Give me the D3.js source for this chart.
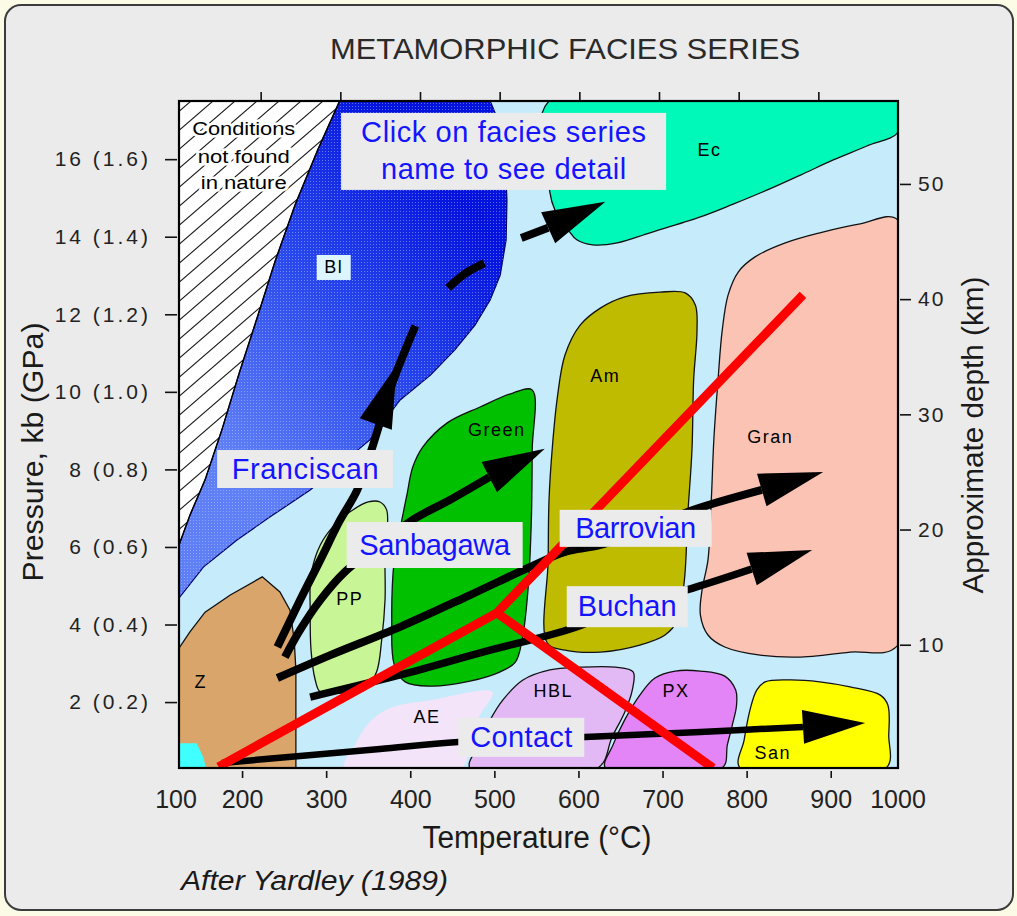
<!DOCTYPE html>
<html><head><meta charset="utf-8">
<script src="https://cdn.jsdelivr.net/npm/d3@7"></script>
<style>
body{margin:0;background:#fcfce6;}
svg{display:block;font-family:"Liberation Sans",Arial,Helvetica,sans-serif;}
</style></head><body>
<svg id="chart" width="1017" height="916"></svg>
<script>
// ---------------- DATA (temperature °C, pressure kb) ----------------
const xTicks = [200, 300, 400, 500, 600, 700, 800, 900];
const xEdgeLabels = [100, 1000];
const yTicks = [2, 4, 6, 8, 10, 12, 14, 16];
const yTickLabels = ["2 (0.2)", "4 (0.4)", "6 (0.6)", "8 (0.8)", "10 (1.0)", "12 (1.2)", "14 (1.4)", "16 (1.6)"];
const depthTicks = [10, 20, 30, 40, 50];

const hatchEdge = [[316,17.5],[290,16.24],[263,14.82],[239,13.35],[219,11.98],[197,10.51],[176,9.02],[156,7.73],[138,6.82],[125,6.05]];
const blueschistRight = [[495,17.5],[507,16.88],[513,15.98],[515,14.95],[514,13.92],[507,13.01],[495,12.37],[477,11.72],[453,11.08],[424,10.43],[388,9.79],[352,8.76],[316,8.11],[281,7.47],[233,6.77],[194,6.18],[154,5.48],[125,4.68]];
const eclogite = [[565,17.5],[980,17.5],[980,16.7],[943,16.34],[903,15.98],[864,15.59],[824,15.2],[784,14.84],[745,14.51],[685,14.1],[646,13.84],[617,13.79],[598,13.92],[588,14.17],[572,14.69],[566,15.15]];
const granulite = [[980,14.43],[935,14.33],[887,14.1],[846,13.84],[810,13.48],[790,13.09],[778,12.5],[771,11.59],[766,10.31],[761,8.76],[758,7.21],[754,5.66],[747,4.89],[745,4.25],[754,3.73],[774,3.42],[816,3.21],[864,3.16],[923,3.29],[980,3.47]];
const amphibolite = [[563,3.52],[564,5.66],[565,7.21],[569,8.58],[575,9.87],[584,10.95],[602,11.72],[626,12.16],[655,12.45],[697,12.57],[727,12.55],[739,12.24],[741,11.59],[737,10.31],[735,8.5],[730,6.82],[726,5.15],[718,4.12],[703,3.73],[673,3.47],[626,3.29],[584,3.34]];
const greenschist = [[545,10.05],[545,8.5],[544,6.7],[540,4.89],[533,3.6],[525,3.03],[507,2.78],[471,2.54],[424,2.41],[394,2.52],[381,2.96],[378,4.12],[381,5.66],[390,6.7],[396,7.34],[403,8.06],[415,8.58],[444,9.2],[483,9.61],[522,9.97]];
const prehnitePumpellyite = [[372,6.95],[370,5.66],[370,4.63],[366,3.6],[360,2.78],[346,2.31],[316,2.23],[293,2.26],[287,2.57],[282,3.34],[281,4.37],[282,5.28],[293,6.05],[310,6.57],[328,6.9],[350,7.16],[364,7.16]];
const zeolite = [[125,3.39],[138,3.81],[156,4.32],[186,4.76],[224,5.23],[245,4.84],[257,4.37],[262,3.6],[264,2.83],[264,0.3],[125,0.3]];
const lowestCorner = [[125,0.94],[146,0.94],[154,0.58],[157,0.3],[125,0.3]];
const albiteEpidote = [[322,0.3],[334,0.89],[352,1.49],[376,1.85],[424,2.05],[498,2.26],[483,1.67],[471,1.02],[461,0.3]];
const hornblendeHornfels = [[471,0.3],[481,0.89],[495,1.54],[510,2.05],[534,2.57],[566,2.83],[602,2.9],[644,2.9],[665,2.78],[664,2.31],[655,1.74],[640,1.1],[623,0.3]];
const pyroxeneHornfels = [[632,0.3],[641,0.89],[655,1.54],[673,2.18],[691,2.62],[715,2.8],[745,2.8],[774,2.67],[787,2.31],[788,1.92],[783,1.41],[777,0.89],[771,0.3]];
const sanidinite = [[792,0.3],[797,1.02],[804,1.8],[812,2.31],[822,2.52],[852,2.57],[887,2.52],[923,2.39],[959,2.18],[968,1.92],[969,1.15],[966,0.3]];

const geothermMain = [[172,0.33],[503,4.3],[867,12.5]];
const geothermContact = [[503,4.3],[760,0.3]];

const franciscanPath = [[242,3.42],[269,4.63],[293,5.66],[316,6.67],[337,7.47],[355,8.58],[378,10.18],[406,11.7]];
const franciscanHead = [[384,10.69],[359,9.17]];
const blueschistDash = [[445,12.68],[466,13.06],[488,13.32]];
const eclogitePath = [[532,13.97],[564,14.23]];
const eclogiteHead = [[632,14.9],[564,14.23]];
const sanbagawaPath = [[251,3.16],[269,3.86],[293,4.63],[322,5.35],[358,5.97],[403,6.7],[447,7.21],[494,7.8]];
const sanbagawaHead = [[560,8.53],[494,7.8]];
const barrovianPath = [[242,2.62],[305,3.21],[388,3.94],[471,4.76],[542,5.48],[584,5.87],[626,6.05],[685,6.51],[736,6.95],[818,7.47]];
const barrovianHead = [[891,7.93],[818,7.47]];
const buchanPath = [[281,2.13],[388,2.7],[483,3.27],[594,3.91],[661,4.5],[736,4.94],[806,5.43]];
const buchanHead = [[878,5.92],[806,5.43]];
const contactPath = [[176,0.43],[269,0.61],[364,0.79],[457,0.97],[608,1.1],[745,1.23],[867,1.36]];
const contactHead = [[941,1.46],[867,1.36]];

const faciesLabels = ["Ec", "Bl", "Am", "Green", "Gran", "PP", "Z", "AE", "HBL", "PX", "San"];
const faciesLabelAt = [[756,16.26],[309,13.22],[632,10.43],[503,9.02],[828,8.84],[328,4.68],[151,2.54],[420,1.62],[570,2.29],[716,2.31],[831,0.71]];

const seriesNames = ["Franciscan", "Sanbagawa", "Barrovian", "Buchan", "Contact"];
const seriesLabelAt = [[275,8.01],[429,6.05],[668,6.48],[658,4.46],[532,1.09]];
const hintLines = ["Click on facies series", "name to see detail"];
const hintAt = [511, 16.2];
const noNatureLines = ["Conditions", "not found", "in nature"];
const noNatureAt = [[202,16.8],[202,16.08],[202,15.39]];

// ---------------- STYLE ----------------
const fills = {Ec:"#00f8b8", Gran:"#fbc3b3", Am:"#bebb00", Green:"#00c000", PP:"#c8f696",
  Z:"#d9a56a", corner:"#40ffff", AE:"#f3e4fa", HBL:"#e2b9f5", PX:"#e384f7", San:"#ffff00"};
const seriesBox = {Franciscan:[176,38,147], Sanbagawa:[176,46,151], Barrovian:[152,37,121], Buchan:[121,41,99], Contact:[126,39,102]};
const blue = "#1414ff";

// ---------------- SCALES ----------------
const svg = d3.select("#chart");
const x = d3.scaleLinear().domain([125, 980]).range([179, 898]);
const xNominal = d3.scaleLinear().domain([100, 1000]).range([181, 898]);
const y = d3.scaleLinear().domain([0.3, 17.5]).range([768, 101]);
const yDepth = d3.scaleLinear().domain([-0.7, 57.2]).range([768, 101]);
const [px0, px1] = x.range();
const [py1, py0] = y.range();

// background & panel
svg.append("rect").attr("width",1017).attr("height",916).attr("fill","#fcfce6");
svg.append("rect").attr("x",5).attr("y",5).attr("width",1008).attr("height",905).attr("rx",16)
  .attr("fill","#ebebeb").attr("stroke","#3c3c3c").attr("stroke-width",2);

const defs = svg.append("defs");
defs.append("clipPath").attr("id","plotclip").append("rect")
  .attr("x",px0).attr("y",py0).attr("width",px1-px0).attr("height",py1-py0);
const hp = defs.append("pattern").attr("id","hatch").attr("patternUnits","userSpaceOnUse")
  .attr("width",22).attr("height",19);
hp.append("rect").attr("width",22).attr("height",19).attr("fill","#ffffff");
hp.append("path").attr("d","M0,19 L22,0 M-3,2.6 L3,-2.6 M19,21.6 L25,16.4").attr("stroke","#1a1a1a").attr("stroke-width",1.1);
const dp = defs.append("pattern").attr("id","dots").attr("patternUnits","userSpaceOnUse").attr("width",3).attr("height",3);
dp.append("rect").attr("x",1).attr("y",1).attr("width",1).attr("height",1).attr("fill","#c8d4ff");
const gr = defs.append("linearGradient").attr("id","blgrad").attr("gradientUnits","userSpaceOnUse")
  .attr("x1",460).attr("y1",200).attr("x2",200).attr("y2",420);
gr.append("stop").attr("offset",0).attr("stop-color","#0412de");
gr.append("stop").attr("offset",0.45).attr("stop-color","#2544ec");
gr.append("stop").attr("offset",1).attr("stop-color","#5f7ff6");

// plot background
svg.append("rect").attr("x",px0).attr("y",py0).attr("width",px1-px0).attr("height",py1-py0).attr("fill","#c6ebfb");

const lin = d3.line().x(d=>x(d[0])).y(d=>y(d[1])).curve(d3.curveLinearClosed);
const smooth = d3.line().x(d=>x(d[0])).y(d=>y(d[1])).curve(d3.curveCatmullRomClosed.alpha(0.5));
const open = d3.line().x(d=>x(d[0])).y(d=>y(d[1])).curve(d3.curveCatmullRom.alpha(0.5));
const straight = d3.line().x(d=>x(d[0])).y(d=>y(d[1]));

const plot = svg.append("g").attr("clip-path","url(#plotclip)");

// hatch region
const hatchPoly = [[125,17.5]].concat(hatchEdge);
plot.append("path").attr("d",lin(hatchPoly)).attr("fill","url(#hatch)");
// blueschist
const blPoly = [hatchEdge[0]].concat(blueschistRight, [hatchEdge[hatchEdge.length-1]], hatchEdge.slice(1,-1).reverse());
plot.append("path").attr("d",lin(blPoly)).attr("fill","url(#blgrad)").attr("stroke","#00006a").attr("stroke-width",1.2);
plot.append("path").attr("d",lin(blPoly)).attr("fill","url(#dots)").attr("opacity",0.45);
plot.append("path").attr("d",straight(hatchEdge)).attr("fill","none").attr("stroke","#000").attr("stroke-width",1.4);

const regions = [
  ["Ec", eclogite, smooth, true], ["Gran", granulite, smooth, true], ["Am", amphibolite, smooth, true],
  ["Green", greenschist, smooth, true], ["PP", prehnitePumpellyite, smooth, true], ["Z", zeolite, lin, true],
  ["corner", lowestCorner, lin, false], ["AE", albiteEpidote, smooth, false], ["HBL", hornblendeHornfels, smooth, true],
  ["PX", pyroxeneHornfels, smooth, true], ["San", sanidinite, smooth, true]
];
regions.forEach(([k, pts, gen, outline]) => {
  plot.append("path").attr("d", gen(pts)).attr("fill", fills[k])
    .attr("stroke", outline ? "#111" : "none").attr("stroke-width", 1.3);
});

// facies labels
faciesLabels.forEach((t, i) => {
  const cx = x(faciesLabelAt[i][0]), cy = y(faciesLabelAt[i][1]);
  if (t === "Bl") plot.append("rect").attr("x",cx-17).attr("y",cy-12).attr("width",34).attr("height",25).attr("fill","#dcf5ff");
  plot.append("text").attr("x",cx).attr("y",cy).attr("dy","0.36em").attr("text-anchor","middle")
    .attr("font-size",18).attr("letter-spacing",1.5).attr("fill","#000").text(t);
});
// no-nature text
noNatureLines.forEach((t,i) => {
  plot.append("text").attr("x",x(noNatureAt[i][0])).attr("y",y(noNatureAt[i][1])).attr("dy","0.36em")
    .attr("text-anchor","middle").attr("font-size",18).attr("textLength",[103,92,86][i]).attr("lengthAdjust","spacingAndGlyphs")
    .attr("stroke","#fff").attr("stroke-width",5).attr("paint-order","stroke").attr("fill","#000").text(t);
});

// arrows
function head(g, h, hw) {
  const tx = x(h[0][0]), ty = y(h[0][1]), bx = x(h[1][0]), by = y(h[1][1]);
  const dx = tx-bx, dy = ty-by, L = Math.hypot(dx,dy), nx = -dy/L, ny = dx/L;
  g.append("path").attr("d", d3.line()([[tx,ty],[bx+nx*hw,by+ny*hw],[bx-nx*hw,by-ny*hw]]) + "Z").attr("fill","#000");
}
const ag = plot.append("g");
[[franciscanPath,8],[blueschistDash,8],[eclogitePath,8],[sanbagawaPath,8],[barrovianPath,8],[buchanPath,7.5],[contactPath,6.5]]
  .forEach(([p,w]) => ag.append("path").attr("d",open(p)).attr("fill","none").attr("stroke","#000").attr("stroke-width",w).attr("stroke-linejoin","round"));
[[franciscanHead,17],[eclogiteHead,17],[sanbagawaHead,17],[barrovianHead,17],[buchanHead,17],[contactHead,17]].forEach(([h,w]) => head(ag,h,w));

// geotherms
[geothermMain, geothermContact].forEach(p => plot.append("path").attr("d",straight(p)).attr("fill","none")
  .attr("stroke","#ff0000").attr("stroke-width",9).attr("stroke-linejoin","miter"));

// series label boxes
seriesNames.forEach((n,i) => {
  const cx = x(seriesLabelAt[i][0]), cy = y(seriesLabelAt[i][1]);
  const [bw, bh, tl] = seriesBox[n];
  svg.append("rect").attr("x",cx-bw/2).attr("y",cy-bh/2).attr("width",bw).attr("height",bh).attr("fill","#ebebeb");
  svg.append("text").attr("x",cx).attr("y",cy).attr("dy","0.33em").attr("text-anchor","middle")
    .attr("font-size",29).attr("textLength",tl).attr("fill",blue).text(n);
});
{
  const cx = x(hintAt[0]), cy = y(hintAt[1]);
  svg.append("rect").attr("x",cx-162.5).attr("y",cy-38.5).attr("width",325).attr("height",77).attr("fill","#ebebeb");
  hintLines.forEach((t,i) => svg.append("text").attr("x",cx).attr("y",cy + (i? 18.5 : -18.5)).attr("dy","0.33em")
    .attr("text-anchor","middle").attr("font-size",29).attr("textLength",[285,245][i]).attr("fill",blue).text(t));
}

// frame
svg.append("rect").attr("x",px0).attr("y",py0).attr("width",px1-px0).attr("height",py1-py0)
  .attr("fill","none").attr("stroke","#000").attr("stroke-width",2.2);

// axes
const font = "'Liberation Sans',Arial,sans-serif";
const gL = svg.append("g").attr("transform","translate(177,0)")
  .call(d3.axisLeft(y).tickValues(yTicks).tickSize(12).tickPadding(14).tickFormat((d,i)=>yTickLabels[i]));
gL.select(".domain").remove();
gL.selectAll("text").attr("font-size",21).attr("letter-spacing",3).attr("fill","#222").attr("font-family",font);
gL.selectAll("line").attr("stroke","#111").attr("stroke-width",1.6);

const gB = svg.append("g").attr("transform","translate(0,771)")
  .call(d3.axisBottom(x).tickValues(xTicks).tickSize(7).tickPadding(12).tickFormat(d3.format("d")));
gB.select(".domain").remove();
gB.selectAll("line").attr("stroke","#111").attr("stroke-width",1.6);
gB.selectAll(".edge").data(xEdgeLabels).join("text").attr("class","edge")
  .attr("x",d=>xNominal(d) - (d===100?5:0)).attr("y",19).attr("dy","0.71em").attr("text-anchor","middle").text(d=>d);
gB.selectAll("text").attr("font-size",25).attr("fill","#222").attr("font-family",font);

const gT = svg.append("g").attr("transform","translate(0,100)")
  .call(d3.axisTop(xNominal).tickValues(xTicks).tickSize(8).tickFormat(""));
gT.select(".domain").remove();
gT.selectAll("line").attr("stroke","#111").attr("stroke-width",1.6);

const gR = svg.append("g").attr("transform","translate(900,0)")
  .call(d3.axisRight(yDepth).tickValues(depthTicks).tickSize(11).tickPadding(7));
gR.select(".domain").remove();
gR.selectAll("text").attr("font-size",21).attr("letter-spacing",2).attr("fill","#222").attr("font-family",font);
gR.selectAll("line").attr("stroke","#111").attr("stroke-width",1.6);

// titles
svg.append("text").attr("x",565).attr("y",59).attr("text-anchor","middle").attr("font-size",30)
  .attr("textLength",470).attr("lengthAdjust","spacingAndGlyphs").attr("fill","#2a2a2a").text("METAMORPHIC FACIES SERIES");
svg.append("text").attr("x",537).attr("y",848).attr("text-anchor","middle").attr("font-size",31)
  .attr("textLength",229).attr("lengthAdjust","spacingAndGlyphs").attr("fill","#1a1a1a").text("Temperature (°C)");
svg.append("text").attr("transform","translate(43,452) rotate(-90)").attr("text-anchor","middle").attr("font-size",30)
  .attr("textLength",259).attr("lengthAdjust","spacingAndGlyphs").attr("fill","#1a1a1a").text("Pressure, kb (GPa)");
svg.append("text").attr("transform","translate(983,435) rotate(-90)").attr("text-anchor","middle").attr("font-size",29)
  .attr("textLength",317).attr("lengthAdjust","spacingAndGlyphs").attr("fill","#1a1a1a").text("Approximate depth (km)");
svg.append("text").attr("x",181).attr("y",890).attr("font-size",27).attr("font-style","italic")
  .attr("textLength",267).attr("lengthAdjust","spacingAndGlyphs").attr("fill","#1a1a1a").text("After Yardley (1989)");
</script></body></html>
